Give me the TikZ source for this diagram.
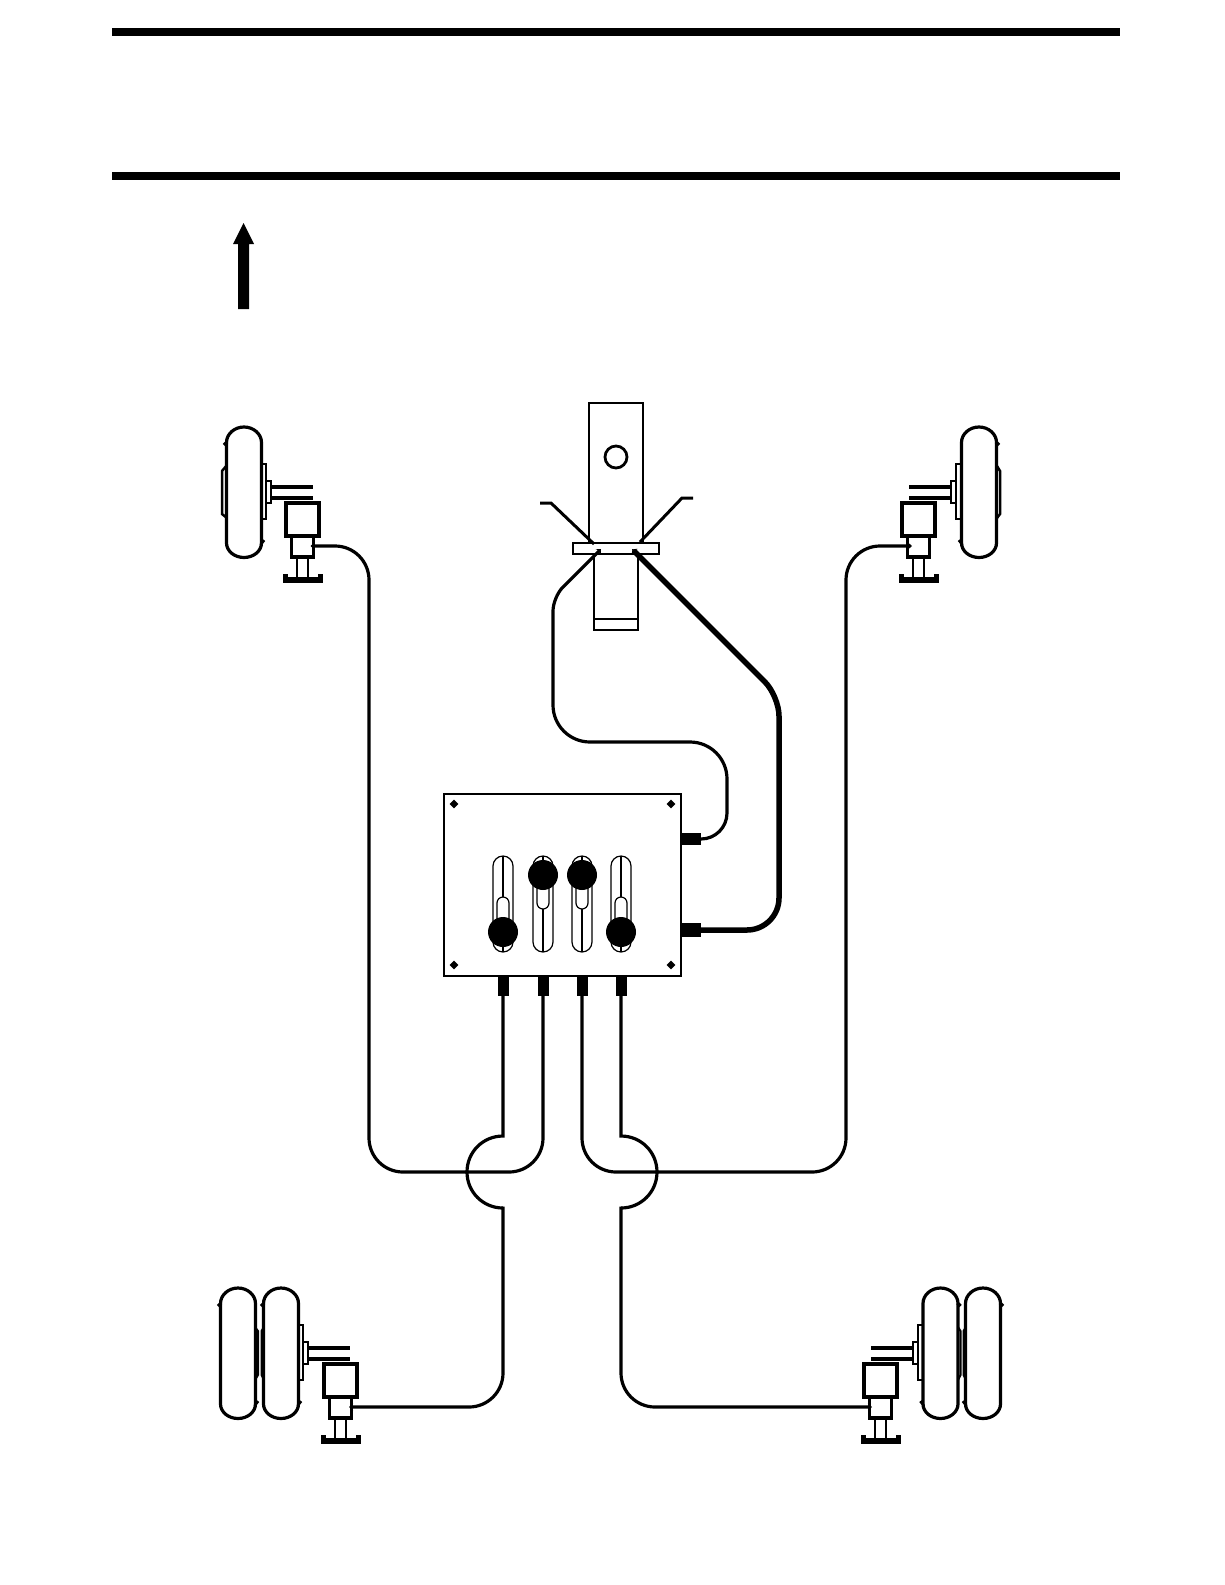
\documentclass[tikz,border=0pt]{standalone}
\usepackage{amsmath}
\usetikzlibrary{arrows.meta,shapes.geometric}

\tikzset{
    part/.style={draw, line width=3.2pt},
    plate/.style={draw, line width=2.2pt},
    thin part/.style={draw, line width=1.2pt},
    pipe/.style={draw, line width=3.2pt, rounded corners=34pt, -{Stealth[length=4pt,width=7pt]}},
    heavy pipe/.style={draw, line width=5.5pt, rounded corners=20pt, -{Stealth[length=4pt,width=8pt]}},
    port/.style={fill=black, inner sep=0pt, minimum width=11pt, minimum height=20pt},
    side port/.style={fill=black, inner sep=0pt, minimum width=21pt},
    corner mark/.style={diamond, fill=black, inner sep=0pt, minimum size=9pt},
    knob/.style={circle, fill=black, inner sep=0pt, minimum size=30pt}
}

\newcommand{\tyre}[3]{
    \begin{scope}[shift={(#1,#2)}, xscale=#3]
        \draw[part] (-20,18) -- (-17.5,15.5) .. controls (-17.5,7) and (-9.6,0) .. (0,0)
            .. controls (9.6,0) and (17.5,7) .. (17.5,15.5) -- (17.5,116) -- (20,113);
        \draw[part] (17.5,116) .. controls (17.5,124) and (9.6,130.5) .. (0,130.5)
            .. controls (-9.6,130.5) and (-17.5,124) .. (-17.5,116) -- (-17.5,15.5);
    \end{scope}
}
\newcommand{\axle}[3]{
    \begin{scope}[shift={(#1,#2)}, xscale=#3]
        \draw[plate] (0,37) rectangle (5,92);
        \draw[plate] (5,54) rectangle (10,76);
        \draw[part] (10,60) -- (52,60);
        \draw[part] (10,71) -- (52,71);
    \end{scope}
}
\newcommand{\valveunit}[4]{
    \begin{scope}[shift={(#1,#2)}]
        \draw[part] (-16.5,0) rectangle (16.5,33);
        \draw[part] (-11,33) rectangle (11,54);
        \draw[part, line width=2.8pt] (-5.5,54) -- (-5.5,74);
        \draw[part, line width=2.8pt] (5.5,54) -- (5.5,74);
        \fill (-20,73.5) rectangle (20,80);
        \fill (-20,70.5) rectangle (-15,75);
        \fill (15,70.5) rectangle (20,75);
        \coordinate (#3) at (#4,43);
    \end{scope}
}
\newcommand{\slider}[4]{
    \draw[thin part, rounded corners=10pt] (#1-10,856) rectangle (#1+10,952);
    \draw[thin part] (#1,856) -- (#1,952);
    \draw[thin part, fill=white, rounded corners=6pt] (#1-6,#2) -- (#1-6,#3) -- (#1+6,#3) -- (#1+6,#2);
    \node[knob] (#4) at (#1,#2) {};
}

\begin{document}
\begin{tikzpicture}[x=1pt, y=-1pt]
    \useasboundingbox (0,0) rectangle (1225,1585);

    \fill (112,28) rectangle (1120,36);
    \fill (112,172) rectangle (1120,180);
    \fill (238,309) -- (238,244) -- (233,244) -- (243.5,223) -- (254,244) -- (249,244) -- (249,309) -- cycle;

    \tyre{244}{427}{1}
    \axle{261}{427}{1}
    \draw[part, line width=2.5pt] (227,465) -- (222,471) -- (222,514) -- (227,518);
    \valveunit{302.5}{503}{valveTL}{8}

    \tyre{979}{427}{-1}
    \axle{961}{427}{-1}
    \draw[part, line width=2.5pt] (997,466) -- (1000,471) -- (1000,514) -- (997,518);
    \valveunit{918.5}{503}{valveTR}{-6.5}

    \tyre{238}{1288}{1}
    \tyre{281}{1288}{1}
    \axle{298}{1288}{1}
    \draw[part, line width=2pt] (255,1327) -- (258,1331) -- (258,1375) -- (255,1380);
    \draw[part, line width=2pt] (264,1327) -- (261.5,1331) -- (261.5,1375) -- (264,1380);
    \valveunit{340.5}{1364}{valveBL}{8.5}

    \tyre{940.5}{1288}{-1}
    \tyre{983}{1288}{-1}
    \axle{923}{1288}{-1}
    \draw[part, line width=2pt] (958,1327) -- (960.5,1331) -- (960.5,1375) -- (958,1380);
    \draw[part, line width=2pt] (966,1327) -- (963.5,1331) -- (963.5,1375) -- (966,1380);
    \valveunit{880.5}{1364}{valveBR}{-8.5}

    \draw[part, line width=2.8pt] (589,543) -- (589,403) -- (643,403) -- (643,543);
    \node[draw, circle, line width=2.8pt, inner sep=0pt, minimum size=22pt] (pin) at (616,457) {};
    \draw[part, line width=2.8pt] (594,554) -- (594,630) -- (638,630) -- (638,554);
    \draw[part, line width=2.2pt] (594,619) -- (638,619);
    \draw[plate, line width=2.6pt] (573,543) rectangle (659,554);
    \draw[part, line width=3pt] (540,503) -- (551,503) -- (594,544);
    \draw[part, line width=3pt] (693,498) -- (682,498) -- (640,542);

    \node[draw, line width=1.2pt, inner sep=0pt, minimum width=237pt, minimum height=182pt] (valvebox) at (562.5,885) {};
    \node[corner mark] (markA) at (454,804) {};
    \node[corner mark] (markB) at (671,804) {};
    \node[corner mark] (markC) at (454,965) {};
    \node[corner mark] (markD) at (671,965) {};

    \slider{503}{932}{897}{knobA}
    \slider{543}{875}{909}{knobB}
    \slider{582}{875}{909}{knobC}
    \slider{621}{932}{897}{knobD}

    \node[port] (portA) at (503,986) {};
    \node[port] (portB) at (543,986) {};
    \node[port] (portC) at (582,986) {};
    \node[port] (portD) at (621,986) {};
    \node[side port, minimum height=12pt] (portE) at (690.5,839) {};
    \node[side port, minimum height=14pt] (portF) at (690.5,930) {};

    \coordinate (clampL) at (601,549);
    \coordinate (clampR) at (632,549);

    \draw[pipe] (portB.south) -- (543,1172) -- (369,1172) -- (369,546) -- (valveTL);
    \draw[pipe] (portC.south) -- (582,1172) -- (846,1172) -- (846,546) -- (valveTR);
    \draw[part, line width=3.2pt] (portA.south) -- (503,1136) .. controls (483,1136) and (467,1152) .. (467,1172)
        .. controls (467,1192) and (483,1208) .. (503,1208);
    \draw[part, line width=3.2pt] (portD.south) -- (621,1136) .. controls (641,1136) and (657,1152) .. (657,1172)
        .. controls (657,1192) and (641,1208) .. (621,1208);
    \draw[pipe] (503,1206.5) -- (503,1407) -- (valveBL);
    \draw[pipe] (621,1206.5) -- (621,1407) -- (valveBR);
    \draw[heavy pipe] (portF.east) [rounded corners=32pt] -- (779,930) [rounded corners=20pt] -- (779,696) -- (clampR);
    \draw[pipe, rounded corners=26pt] (portE.east) -- (727,839) [rounded corners=37pt] -- (727,742) -- (553,742) [rounded corners=14pt] -- (553,597) -- (clampL);
\end{tikzpicture}
\end{document}
